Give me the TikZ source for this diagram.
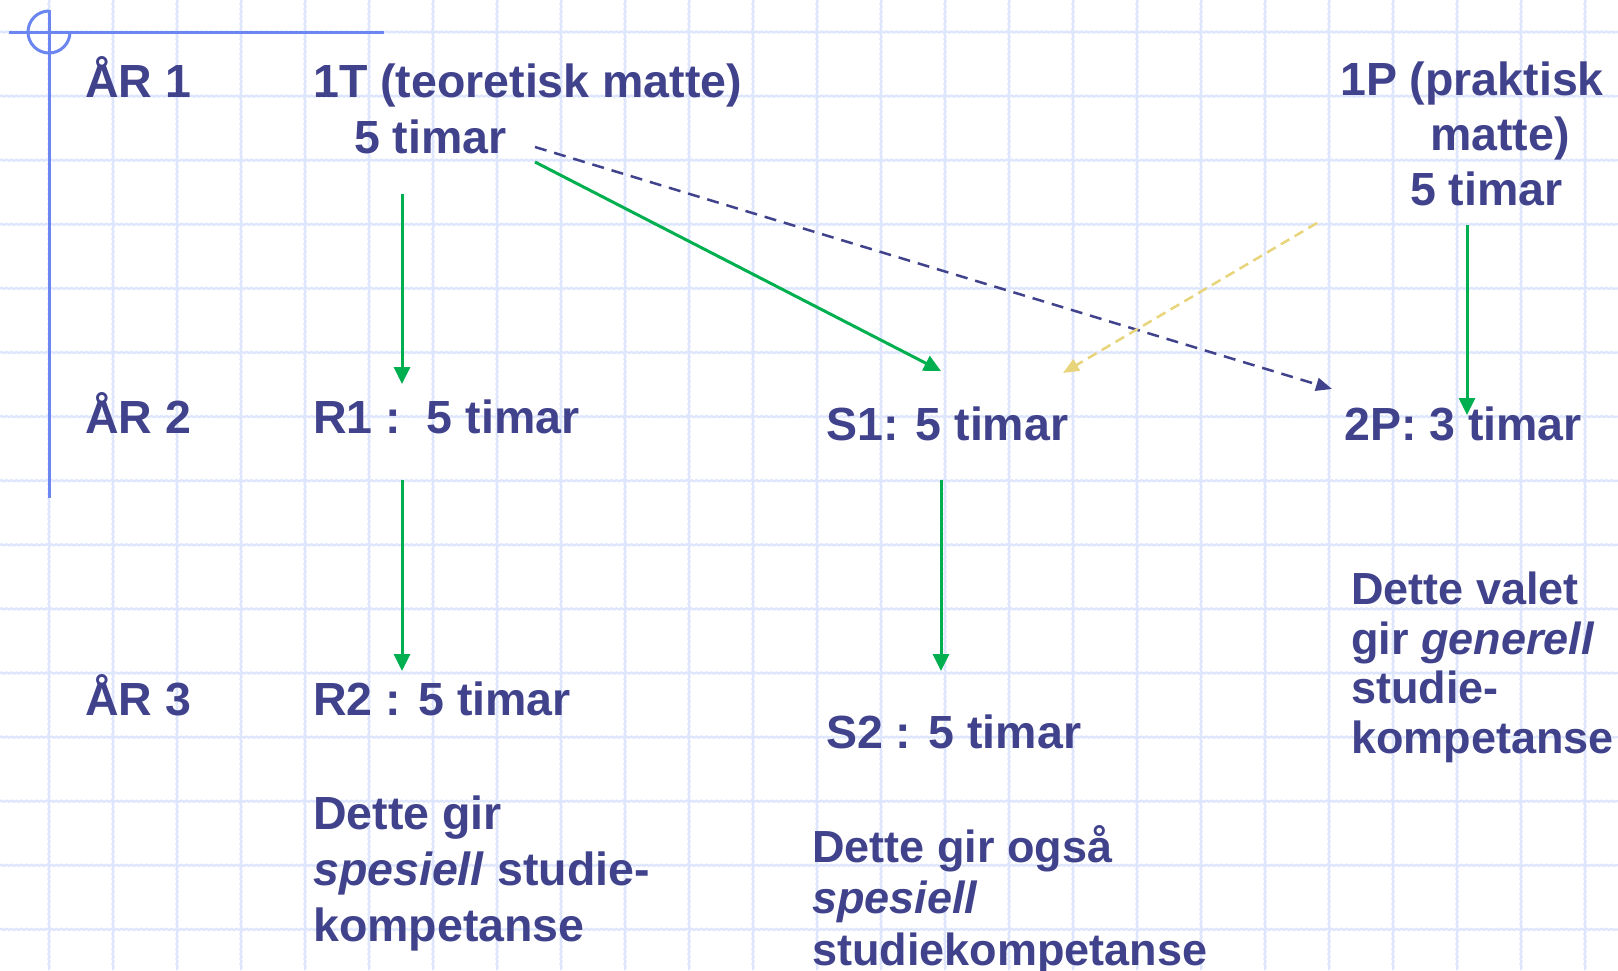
\documentclass[tikz,border=0pt]{standalone}
\usepackage{fontspec}
\setmainfont{Liberation Sans}
\usetikzlibrary{arrows.meta,decorations.pathmorphing}
\definecolor{txt}{RGB}{64,66,140}
\definecolor{grn}{RGB}{0,176,80}
\definecolor{ylw}{RGB}{232,212,122}
\definecolor{gridc}{RGB}{222,230,253}
\definecolor{deco}{RGB}{107,134,240}
\begin{document}
\begin{tikzpicture}[x=1pt,y=-1pt,
  lbl/.style={anchor=base west, inner sep=0pt, text=txt, font=\fontsize{46.5}{#1}\selectfont\bfseries, align=left},
  lbl/.default=56,
  lblsm/.style={lbl, font=\fontsize{45}{#1}\selectfont\bfseries},
  garrow/.style={draw=grn, line width=3pt, -{Triangle[length=17pt,width=16pt]}},
  darrow/.style={draw=txt, line width=2.5pt, dash pattern=on 12pt off 8pt, -{Triangle[length=16pt,width=13pt]}},
  yarrow/.style={draw=ylw, line width=2.5pt, dash pattern=on 10pt off 6pt, -{Triangle[length=16pt,width=13pt]}},
  gridline/.style={draw=gridc, line width=2.2pt, decorate, decoration={snake, amplitude=0.6pt, segment length=5pt}},
  decoline/.style={draw=deco, line width=3pt}]
\fill[white] (0,0) rectangle (1618,970);
\useasboundingbox (0,0) rectangle (1618,970);
% grid
\foreach \i in {0,...,24} {\path[gridline] (49+64*\i,0) -- (49+64*\i,970);}
\foreach \j in {0,...,14} {\path[gridline] (0,32+64.1*\j) -- (1618,32+64.1*\j);}
% corner decoration
\draw[decoline] (49,10) -- (49,498);
\draw[decoline] (9,32) -- (384,32);
\draw[decoline] (49,11) arc[start angle=-90, end angle=-360, radius=21];
% labels (anchored at the baseline of the last line)
\node[lbl] (ar1) at (85,97) {ÅR 1};
\node[lbl] (ar2) at (85,433) {ÅR 2};
\node[lbl] (ar3) at (85,715) {ÅR 3};
\node[lbl] (t1) at (313,153) {1T (teoretisk matte)\\\hspace*{41pt}5 timar};
\node[lbl=55] (p1) at (1340,205) {1P (praktisk\\\hspace*{90pt}matte)\\\hspace*{70pt}5 timar};
\node[lbl] (r1) at (313,433) {R1 :\ \ 5 timar};
\node[lbl] (s1) at (826,440) {S1: 5 timar};
\node[lbl] (p2) at (1344,440) {2P: 3 timar};
\node[lbl] (r2) at (313,715) {R2 : 5 timar};
\node[lbl] (s2) at (826,748) {S2 : 5 timar};
\node[lbl] (rtxt) at (313,941) {Dette gir\\\textit{spesiell} studie-\\kompetanse};
\node[lblsm=51.5] (stxt) at (812,965) {Dette gir også\\\textit{spesiell}\\studiekompetanse};
\node[lblsm=49.5] (ptxt) at (1351,753) {Dette valet\\gir \textit{generell}\\studie-\\kompetanse};
% connector ends
\coordinate (t1a) at (402,194);
\coordinate (r1in) at (402,384);
\coordinate (t1b) at (535,162);
\coordinate (s1in) at (941,371);
\coordinate (t1c) at (535,147);
\coordinate (p2in) at (1332,389);
\coordinate (p1a) at (1317,223);
\coordinate (s1iny) at (1063,373);
\coordinate (p1b) at (1467,225);
\coordinate (p2top) at (1467,415);
\coordinate (r1out) at (402,480);
\coordinate (r2in) at (402,671);
\coordinate (s1out) at (941,480);
\coordinate (s2in) at (941,671);
% connectors
\draw[garrow] (t1a) -- (r1in);
\draw[garrow] (t1b) -- (s1in);
\draw[darrow] (t1c) -- (p2in);
\draw[yarrow] (p1a) -- (s1iny);
\draw[garrow] (p1b) -- (p2top);
\draw[garrow] (r1out) -- (r2in);
\draw[garrow] (s1out) -- (s2in);
\end{tikzpicture}
\end{document}
